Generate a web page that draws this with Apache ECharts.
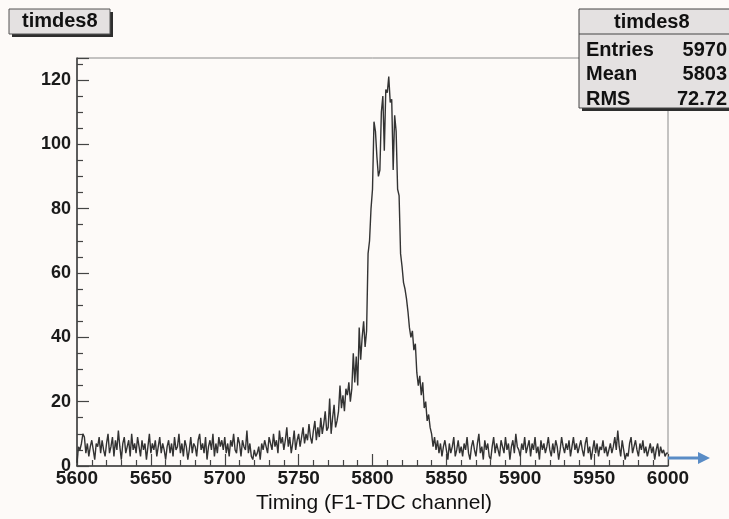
<!DOCTYPE html>
<html>
<head>
<meta charset="utf-8">
<script src="https://cdn.jsdelivr.net/npm/echarts@6/dist/echarts.min.js"></script>
<style>
  html, body { margin: 0; padding: 0; background: #fdfaf8; }
  #chart { width: 729px; height: 519px; }
</style>
</head>
<body>
<div id="chart"></div>
<script>
// histogram timdes8: one bin per TDC channel, 5600..6000
var binStart = 5600;
var binWidth = 1;
var counts = [
  1, 6, 5, 7, 10, 9, 4, 7, 3, 6, 8, 5, 2, 7, 6, 9, 4, 8, 5, 3,          // 5600
  7, 10, 4, 6, 9, 3, 8, 5, 11, 6, 2, 7, 9, 4, 6, 8, 3, 10, 5, 7,        // 5620
  4, 9, 6, 3, 8, 5, 7, 2, 6, 10, 4, 7, 5, 8, 3, 6, 9, 4, 7, 5,          // 5640
  2, 6, 8, 4, 7, 3, 9, 5, 6, 10, 4, 7, 3, 8, 6, 2, 5, 9, 4, 7,          // 5660
  6, 3, 8, 10, 5, 7, 4, 9, 2, 6, 8, 5, 10, 3, 7, 4, 9, 6, 8, 5,         // 5680
  9, 4, 7, 3, 8, 6, 10, 5, 4, 9, 7, 3, 8, 6, 5, 11, 4, 7, 3, 2,         // 5700
  5, 3, 4, 6, 2, 7, 5, 8, 6, 4, 9, 7, 5, 10, 6, 8, 4, 11, 7, 9,         // 5720
  5, 8, 12, 6, 9, 4, 7, 11, 5, 8, 10, 6, 9, 12, 7, 10, 8, 13, 9, 7,     // 5740
  11, 14, 8, 12, 9, 15, 10, 13, 17, 11, 12, 21, 10, 15, 19, 12, 14, 17, 25, 18, // 5760
  22, 17, 24, 22, 26, 20, 24, 35, 26, 34, 25, 43, 33, 40, 45, 37, 42, 66, 70, 80, // 5780
  86, 107, 104, 96, 90, 92, 110, 115, 98, 117, 116, 121, 113, 114, 92, 109, 104, 86, 84, 66, // 5800
  62, 57, 55, 52, 48, 43, 40, 42, 36, 38, 29, 25, 28, 22, 26, 18, 20, 14, 16, 12, // 5820
  10, 6, 9, 5, 8, 4, 7, 3, 6, 8, 5, 2, 7, 4, 6, 9, 3, 5, 8, 4,          // 5840
  6, 3, 7, 5, 9, 4, 2, 6, 8, 5, 3, 7, 10, 4, 6, 2, 8, 5, 7, 3,          // 5860
  2, 6, 9, 4, 7, 5, 3, 8, 6, 4, 9, 5, 7, 2, 6, 8, 4, 10, 6, 5,          // 5880
  3, 7, 5, 9, 4, 6, 8, 3, 7, 5, 9, 4, 6, 2, 8, 5, 7, 4, 6, 9,           // 5900
  5, 3, 7, 4, 8, 6, 2, 5, 9, 6, 4, 7, 5, 8, 3, 6, 9, 5, 7, 4,           // 5920
  6, 8, 5, 3, 7, 9, 4, 6, 2, 5, 8, 4, 7, 3, 6, 5, 8, 4, 6, 3,           // 5940
  5, 7, 4, 6, 9, 5, 11, 6, 3, 8, 5, 2, 4, 3, 7, 9, 4, 6, 8, 5,          // 5960
  3, 7, 5, 8, 4, 6, 3, 5, 7, 4, 6, 2, 5, 7, 3, 6, 4, 5, 3, 4            // 5980
];
var xTicks = [5600, 5650, 5700, 5750, 5800, 5850, 5900, 5950, 6000];
var yTicks = [0, 20, 40, 60, 80, 100, 120];
var histName = 'timdes8';
var statNames = ['Entries', 'Mean', 'RMS'];
var statValues = ['5970', '5803', '72.72'];
var xTitle = 'Timing (F1-TDC channel)';

var font = "'Liberation Sans', Arial, sans-serif";

// step points: left edge of each bin, plus closing point at the last edge
var stepData = counts.map(function (v, i) { return [binStart + i * binWidth, v]; });
stepData.push([binStart + counts.length * binWidth, counts[counts.length - 1]]);

var myChart = echarts.init(document.getElementById('chart'));

var statTexts = [];
statNames.forEach(function (n, i) {
  statTexts.push({ type: 'text', left: 586, top: 40 + i * 24.5, z: 101,
    style: { text: n, font: 'bold 20px ' + font, fill: '#111' } });
  statTexts.push({ type: 'text', right: 2, top: 40 + i * 24.5, z: 101,
    style: { text: statValues[i], font: 'bold 20px ' + font, fill: '#111', textAlign: 'right' } });
});

var option = {
  backgroundColor: '#fdfaf8',
  animation: false,
  grid: {
    left: 77, right: 61, top: 58, bottom: 53,
    show: true, borderColor: '#8a8a8a', borderWidth: 1
  },
  xAxis: {
    type: 'value',
    min: xTicks[0], max: xTicks[xTicks.length - 1], interval: 50,
    axisLine: { lineStyle: { color: '#3a3a3a', width: 1.5 } },
    axisTick: { inside: true, length: 12, lineStyle: { color: '#444', width: 1.2 } },
    minorTick: { show: true, splitNumber: 5, length: 6, lineStyle: { color: '#444', width: 1.2 } },
    splitLine: { show: false },
    axisLabel: {
      fontFamily: font, fontSize: 19, fontWeight: 'bold', color: '#1a1a1a', margin: 3,
      formatter: function (v) { return xTicks.indexOf(v) >= 0 ? String(v) : ''; }
    }
  },
  yAxis: {
    type: 'value',
    min: 0, max: 126.8, interval: 20,
    axisLine: { show: true, lineStyle: { color: '#3a3a3a', width: 1.5 } },
    axisTick: { inside: true, length: 12, lineStyle: { color: '#444', width: 1.2 } },
    minorTick: { show: true, splitNumber: 4, length: 6, lineStyle: { color: '#444', width: 1.2 } },
    splitLine: { show: false },
    axisLabel: {
      fontFamily: font, fontSize: 18, fontWeight: 'bold', color: '#1a1a1a', margin: 6,
      formatter: function (v) { return yTicks.indexOf(v) >= 0 ? String(v) : ''; }
    }
  },
  series: [{
    type: 'line',
    step: 'end',
    symbol: 'none',
    data: stepData,
    lineStyle: { color: '#333', width: 1.4 }
  }],
  graphic: [
    // title box
    { type: 'rect', shape: { x: 12, y: 12, width: 101, height: 25 }, style: { fill: '#2e2e2e' }, z: 100 },
    { type: 'rect', shape: { x: 9, y: 9, width: 101, height: 25 }, style: { fill: '#e4e1e1', stroke: '#555', lineWidth: 1 }, z: 100 },
    { type: 'text', left: 22, top: 11, z: 101, style: { text: histName, font: 'bold 20px ' + font, fill: '#111' } },
    // stats box
    { type: 'rect', shape: { x: 582, y: 12, width: 160, height: 99 }, style: { fill: '#2e2e2e' }, z: 100 },
    { type: 'rect', shape: { x: 579, y: 9, width: 160, height: 99 }, style: { fill: '#e4e1e1', stroke: '#444', lineWidth: 1 }, z: 100 },
    { type: 'line', shape: { x1: 579, y1: 34, x2: 729, y2: 34 }, style: { stroke: '#444', lineWidth: 1 }, z: 101 },
    { type: 'text', left: 614, top: 12, z: 101, style: { text: histName, font: 'bold 20px ' + font, fill: '#111' } }
  ].concat(statTexts).concat([
    { type: 'text', left: 256, top: 493, z: 101, style: { text: xTitle, font: '21px ' + font, fill: '#111' } }
  ])
};
myChart.setOption(option);

// blue arrow past the end of the axis
var p = myChart.convertToPixel({ gridIndex: 0 }, [6000, 2.5]);
myChart.setOption({
  graphic: option.graphic.concat([
    { type: 'line', shape: { x1: p[0], y1: p[1], x2: p[0] + 34, y2: p[1] }, style: { stroke: '#5a8cc6', lineWidth: 3 }, z: 102 },
    { type: 'polygon', shape: { points: [[p[0] + 30, p[1] - 6], [p[0] + 42, p[1]], [p[0] + 30, p[1] + 6]] }, style: { fill: '#5a8cc6' }, z: 102 }
  ])
});
</script>
</body>
</html>
